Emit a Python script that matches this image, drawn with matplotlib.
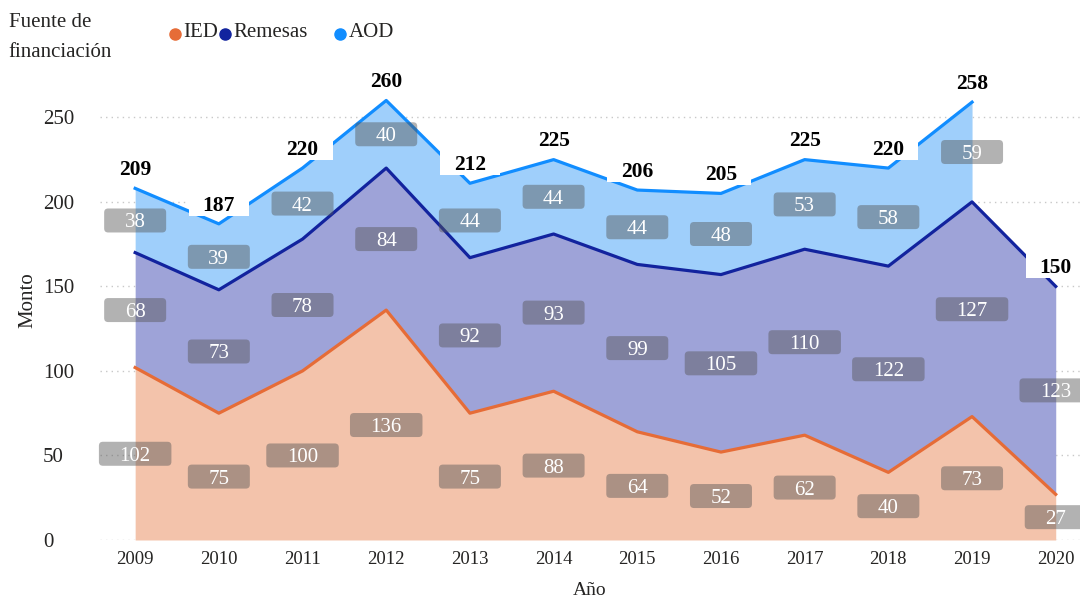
import matplotlib.pyplot as plt
import numpy as np
from matplotlib.patches import FancyBboxPatch
from matplotlib.transforms import ScaledTranslation

# Datos
years = [2009, 2010, 2011, 2012, 2013, 2014, 2015, 2016, 2017, 2018, 2019, 2020]
ied = [102, 75, 100, 136, 75, 88, 64, 52, 62, 40, 73, 27]
remesas = [68, 73, 78, 84, 92, 93, 99, 105, 110, 122, 127, 123]
aod = [38, 39, 42, 40, 44, 44, 44, 48, 53, 58, 59, np.nan]
totals = [209, 187, 220, 260, 212, 225, 206, 205, 225, 220, 258, 150]

plt.rcParams['font.family'] = ['Liberation Serif', 'DejaVu Serif']

c_ied, c_rem, c_aod = '#E66C37', '#12239E', '#118DFF'
f_ied, f_rem, f_aod = '#F3C3AB', '#9EA3D8', '#9FCFFB'

x = np.array(years)
y1 = np.array(ied, dtype=float)
y2 = y1 + np.array(remesas, dtype=float)
y3 = y2 + np.array(aod, dtype=float)

fig = plt.figure(figsize=(10.8, 5.97), dpi=100)
ax = fig.add_axes([0.0926, 0.0955, 0.9074, 0.7504])

ax.fill_between(x, 0, y1, color=f_ied, lw=0, zorder=1)
ax.fill_between(x, y1, y2, color=f_rem, lw=0, zorder=1)
m = ~np.isnan(y3)
ax.fill_between(x[m], y2[m], y3[m], color=f_aod, lw=0, zorder=1)
ax.plot(x, y1, color=c_ied, lw=2.3, zorder=2)
ax.plot(x, y2, color=c_rem, lw=2.3, zorder=2)
ax.plot(x[m], y3[m], color=c_aod, lw=2.3, zorder=2)

ax.set_xlim(2008.58, 2020.29)
ax.set_ylim(0, 265)
ax.set_yticks([0, 50, 100, 150, 200, 250])
ax.set_xticks(years)
ax.grid(axis='y', color='#C8C8C8', linestyle=(0, (1, 3)), lw=1)
ax.set_axisbelow(True)
for s in ax.spines.values():
    s.set_visible(False)
ax.tick_params(length=0, colors='#252423')
ax.tick_params(axis='y', pad=41, labelsize=15)
ax.tick_params(axis='x', pad=8, labelsize=13.5)
for t in ax.get_yticklabels():
    t.set_horizontalalignment('left')

fig.text(0.026, 0.4975, 'Monto', fontsize=15, color='#252423', rotation=90,
         ha='center', va='center')
ax.set_xlabel('Año', fontsize=14, color='#252423', labelpad=10)


def box_at(xx, yy, w_px, h_px, dy_px=0, **kw):
    # caja de tamaño fijo (en píxeles) centrada en un punto de datos
    tr = fig.dpi_scale_trans + ScaledTranslation(xx, yy, ax.transData)
    p = FancyBboxPatch((-w_px / 200, (dy_px - h_px / 2) / 100), w_px / 100, h_px / 100,
                       transform=tr, clip_on=False, **kw)
    ax.add_patch(p)


# etiquetas de segmentos
def seg_label(xx, lo, hi, v):
    yc = (lo + hi) / 2
    box_at(xx, yc, 41 + 10.5 * len(str(v)), 24,
           boxstyle='round,pad=0,rounding_size=0.04', fc='#555555', ec='none',
           alpha=0.45, zorder=4)
    ax.text(xx, yc, f'{v}', ha='center', va='center_baseline', fontsize=15,
            color='white', zorder=4.5)


for i, yr in enumerate(years):
    seg_label(yr, 0, y1[i], ied[i])
    seg_label(yr, y1[i], y2[i], remesas[i])
    if not np.isnan(aod[i]):
        seg_label(yr, y2[i], y3[i], aod[i])
    top = y3[i] if not np.isnan(y3[i]) else y2[i]
    box_at(yr, top, 60, 26, dy_px=21, boxstyle='square,pad=0', fc='white',
           ec='none', zorder=5)
    ax.annotate(f'{totals[i]}', (yr, top), xytext=(0, 15), textcoords='offset points',
                ha='center', va='center_baseline', fontsize=15.5, fontweight='bold',
                color='black', zorder=5.5, annotation_clip=False)

# leyenda
fig.text(0.008, 0.962, 'Fuente de', fontsize=15, color='#252423', va='center')
fig.text(0.008, 0.912, 'financiación', fontsize=15, color='#252423', va='center')
for xm, lab, c in [(0.162, 'IED', c_ied), (0.208, 'Remesas', c_rem), (0.315, 'AOD', c_aod)]:
    fig.lines.append(plt.Line2D([xm], [0.943], marker='o', ms=8, color=c,
                                transform=fig.transFigure))
    fig.text(xm + 0.008, 0.945, lab, fontsize=15, color='#252423', va='center')

plt.savefig('out.png', dpi=100)
